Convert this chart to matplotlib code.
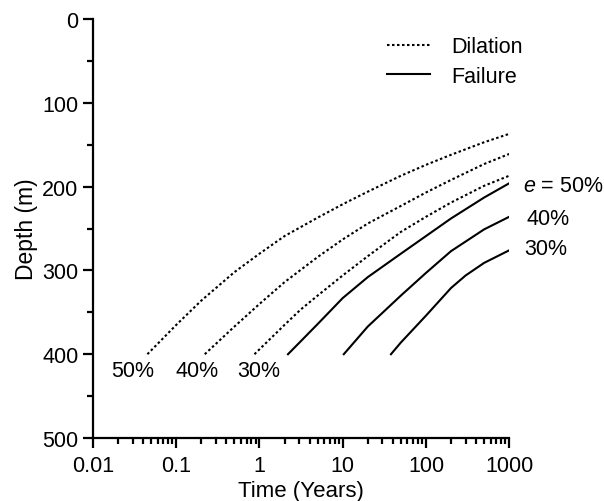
import matplotlib.pyplot as plt
from matplotlib.ticker import LogLocator, MultipleLocator, FixedFormatter, FixedLocator

plt.rcParams['font.family'] = ['Liberation Sans', 'DejaVu Sans']
plt.rcParams['mathtext.fontset'] = 'custom'
plt.rcParams['mathtext.it'] = 'Liberation Sans:italic'
plt.rcParams['mathtext.rm'] = 'Liberation Sans'

# dilation curves (time in years, depth in m)
dil50_t = [0.045, 0.1, 0.2, 0.5, 1, 2, 5, 10, 20, 50, 100, 200, 500, 1000]
dil50_d = [400, 365, 336, 302, 280, 259, 237, 221, 206, 187, 174, 162, 147, 137]
dil40_t = [0.22, 0.5, 1, 2, 5, 10, 20, 50, 100, 200, 500, 1000]
dil40_d = [400, 367, 340, 314, 284, 263, 244, 223, 207, 192, 173, 161]
dil30_t = [0.87, 2, 3.1, 5, 10, 20, 50, 100, 200, 500, 1000]
dil30_d = [400, 365, 347, 330, 306, 283, 254, 236, 219, 199, 187]

# failure curves
fail50_t = [2.2, 3.1, 5, 10, 20, 50, 100, 200, 500, 1000]
fail50_d = [400, 385, 364, 333, 308, 280, 259, 238, 213, 196]
fail40_t = [10.3, 20, 50, 100, 200, 500, 1000]
fail40_d = [400, 367, 330, 303, 277, 251, 236]
fail30_t = [38, 50, 100, 200, 300, 500, 1000]
fail30_d = [400, 386, 354, 321, 306, 291, 276]

fig = plt.figure(figsize=(6.04, 5.02), dpi=100)
ax = fig.add_axes([0.154, 0.1255, 0.689, 0.8345])

dot = (0, (1.2, 1.2))
for t, d in [(dil50_t, dil50_d), (dil40_t, dil40_d), (dil30_t, dil30_d)]:
    ax.plot(t, d, color='black', lw=1.5, linestyle=dot)
for t, d in [(fail50_t, fail50_d), (fail40_t, fail40_d), (fail30_t, fail30_d)]:
    ax.plot(t, d, color='black', lw=1.5)

ax.set_xscale('log')
ax.set_xlim(0.01, 1000)
ax.set_ylim(500, 0)

ax.xaxis.set_major_locator(FixedLocator([0.01, 0.1, 1, 10, 100, 1000]))
ax.xaxis.set_major_formatter(FixedFormatter(['0.01', '0.1', '1', '10', '100', '1000']))
ax.xaxis.set_minor_locator(LogLocator(base=10, subs=range(2, 10)))
ax.yaxis.set_major_locator(MultipleLocator(100))
ax.yaxis.set_minor_locator(MultipleLocator(50))

for s in ['top', 'right']:
    ax.spines[s].set_visible(False)
for s in ['left', 'bottom']:
    ax.spines[s].set_linewidth(1.6)
ax.tick_params(which='major', length=7, width=1.6, labelsize=15.5, direction='out')
ax.tick_params(which='minor', length=4, width=1.6, direction='out')
ax.tick_params(axis='x', pad=5)

ax.set_xlabel('Time (Years)', fontsize=16, labelpad=3)
ax.set_ylabel('Depth (m)', fontsize=16.5, labelpad=3)

# labels at the start of the dilation curves
ax.text(0.03, 419, '50%', fontsize=15.5, ha='center', va='center')
ax.text(0.18, 419, '40%', fontsize=15.5, ha='center', va='center')
ax.text(0.97, 419, '30%', fontsize=15.5, ha='center', va='center')

# labels at the right end of the failure curves
ax.text(1450, 199, '$e$ = 50%', fontsize=15.5, ha='left', va='center', clip_on=False)
ax.text(1600, 238, '40%', fontsize=15.5, ha='left', va='center', clip_on=False)
ax.text(1500, 274, '30%', fontsize=15.5, ha='left', va='center', clip_on=False)

ax.plot([], [], color='black', lw=1.5, linestyle=dot, label='Dilation')
ax.plot([], [], color='black', lw=1.5, label='Failure')
ax.legend(loc='upper right', bbox_to_anchor=(1.08, 1.005), frameon=False, fontsize=15.5,
          handlelength=2.0, handletextpad=1.0, labelspacing=0.4)

fig.savefig('out.png', dpi=100)
